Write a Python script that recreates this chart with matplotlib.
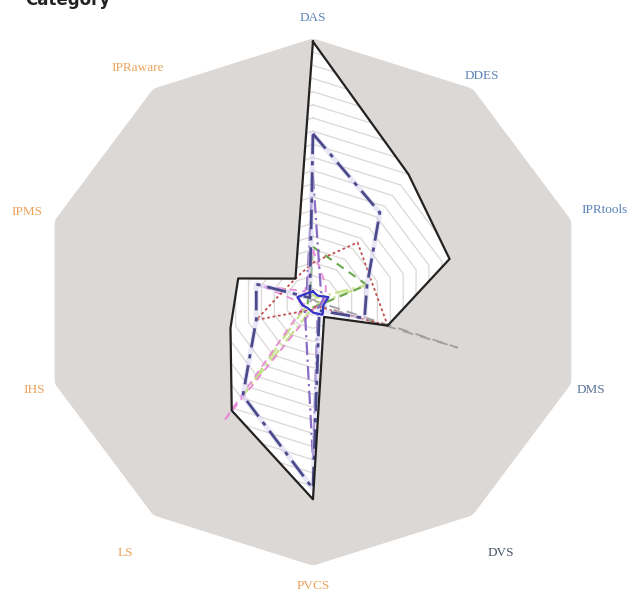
import numpy as np
import matplotlib
matplotlib.use("Agg")
import matplotlib.pyplot as plt

categories = ['DAS', 'DDES', 'IPRtools', 'DMS', 'DVS', 'PVCS', 'LS', 'IHS', 'IPMS', 'IPRaware']
label_colors = ['#5b84b8', '#5b84b8', '#5b84b8', '#5b7398', '#4a5566',
                '#eaa35a', '#eaa35a', '#eaa35a', '#eaa35a', '#eaa35a']

scale_max = 100
grid_levels = list(range(5, 101, 5))

black_vals = [99, 60, 53, 29, 7, 75, 51, 32, 29, 11]
purple_vals = [64, 42, 21, 20, 4, 71, 44, 22, 22, 2]
violet_vals = [48, 5, 4, 3, 3, 60, 5, 4, 6, 4]
red_vals = [15, 28, 23, 29, 2, 3, 4, 22, 12, 11]
grey_vals = [1, 1, 1, 56, 1, 1, 1, 1, 1, 1]
pink_vals = [20, 8, 5, 3, 2, 3, 56, 3, 20, 5]
green_vals = [21, 17, 21, 3, 2, 2, 2, 2, 2, 2]
lime_vals = [3, 2, 21, 2, 2, 2, 43, 2, 2, 2]
blue_vals = [4, 3, 6, 4, 6, 4, 3, 4, 6, 4]

n = len(categories)
theta = np.linspace(0, 2 * np.pi, n, endpoint=False)


def closed(v):
    v = list(v)
    return v + v[:1]


th_c = closed(theta)

fig = plt.figure(figsize=(6.35, 5.94), dpi=100)
ax = fig.add_axes([0.0661, 0.0488, 0.8535, 0.8855], projection='polar')
ax.set_theta_offset(np.pi / 2)
ax.set_theta_direction(-1)
ax.set_ylim(0, scale_max)
ax.set_aspect('auto')
ax.axis('off')

bg = '#dbd8d6'
# grey background decagon
ax.fill(th_c, closed([scale_max] * n), color=bg, zorder=0, lw=0)
# white fill of main series
ax.fill(th_c, closed(black_vals), color='white', zorder=1, lw=0)
# concentric grid decagons (same tone as background, so only visible on white)
for lv in grid_levels:
    ax.plot(th_c, closed([lv] * n), color=bg, lw=0.9, zorder=2)

ax.plot(th_c, closed(grey_vals), color='#a0a0a0', lw=1.3, ls=(0, (6, 4)), zorder=3)
ax.plot(th_c, closed(lime_vals), color='#c8e08a', lw=1.6, ls=(0, (6, 2, 1, 2)), zorder=3)
ax.plot(th_c, closed(green_vals), color='#6aa84f', lw=1.5, ls=(0, (4, 3)), zorder=3)
ax.plot(th_c, closed(pink_vals), color='#e88ad8', lw=1.3, ls=(0, (4, 3)), zorder=3)
ax.plot(th_c, closed(red_vals), color='#c0504d', lw=1.3, ls=(0, (1.5, 1.5)), zorder=4)
ax.plot(th_c, closed(violet_vals), color='#8a6cc4', lw=1.6, ls=(0, (6, 2, 1, 2)), zorder=4)
ax.plot(th_c, closed(purple_vals), color='#d6d0f0', lw=3.6, zorder=4, alpha=0.5)
ax.plot(th_c, closed(purple_vals), color='#4b4b8c', lw=2.0, ls=(0, (7, 2.5, 1.5, 2.5)), zorder=5)
ax.plot(th_c, closed(blue_vals), color='#3434c8', lw=1.6, zorder=5)
ax.plot(th_c, closed(black_vals), color='#222222', lw=1.6, zorder=6)

label_r = [108, 106, 113, 108, 118, 108, 118, 108, 111, 110]
for t, lab, col, lr in zip(theta, categories, label_colors, label_r):
    ax.text(t, lr, lab, color=col, fontsize=9.5, family='Liberation Serif',
            ha='center', va='center', clip_on=False, zorder=7)

fig.text(25 / 635, 1 - 5 / 594, 'Category', fontsize=12, fontweight='bold',
         color='#222222', va='baseline', ha='left')

fig.savefig('out.png', dpi=100)
